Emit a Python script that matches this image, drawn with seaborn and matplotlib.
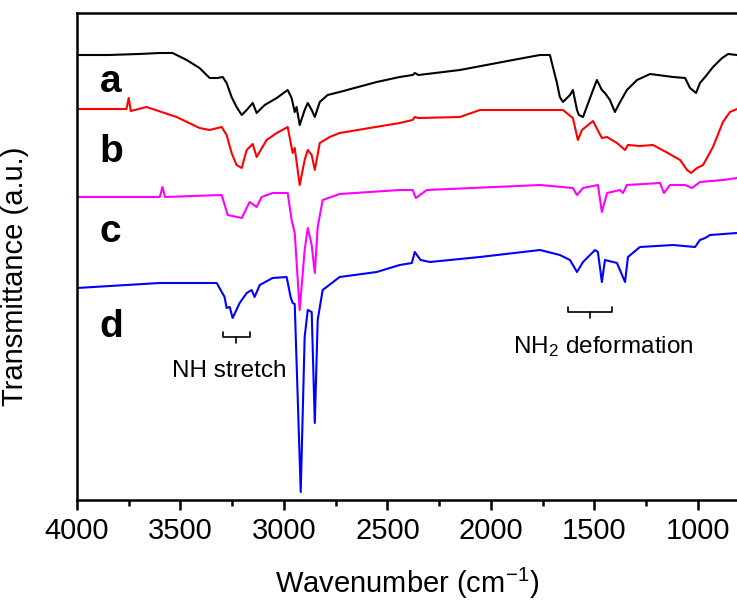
import matplotlib
matplotlib.use("Agg")
import matplotlib.pyplot as plt
from matplotlib.ticker import MultipleLocator
import seaborn as sns
import pandas as pd

# spectra (wavenumber, stacked transmittance a.u.)
wn_a = [4000, 3850, 3700, 3600, 3538, 3470, 3408, 3359, 3321, 3296, 3277, 3253, 3229, 3204, 3180,
        3151, 3132, 3093, 3035, 2982, 2963, 2948, 2939, 2924, 2900, 2885, 2866, 2851, 2827, 2789,
        2731, 2552, 2441, 2378, 2368, 2350, 2150, 1894, 1763, 1715, 1681, 1667, 1652, 1618, 1604,
        1584, 1575, 1555, 1512, 1488, 1464, 1449, 1425, 1401, 1376, 1343, 1294, 1231, 1120, 1062,
        1038, 1009, 990, 965, 927, 883, 854, 811]
t_a = [545, 545, 546, 547, 547, 540, 532, 522, 522, 523, 517, 503, 493, 485, 490,
       497, 487, 495, 502, 510, 502, 488, 493, 475, 490, 497, 490, 483, 498, 505,
       508, 518, 523, 525, 527, 525, 530, 540, 545, 545, 517, 503, 498, 505, 510,
       490, 485, 483, 507, 520, 510, 507, 500, 488, 498, 510, 520, 526, 523, 522,
       512, 507, 517, 523, 533, 542, 546, 545]

wn_b = [4000, 3780, 3761, 3750, 3740, 3664, 3519, 3408, 3359, 3301, 3277, 3253, 3229, 3204, 3180,
        3151, 3132, 3084, 3035, 2982, 2958, 2948, 2924, 2900, 2885, 2866, 2851, 2827, 2779, 2731,
        2441, 2378, 2368, 2350, 2150, 2053, 1763, 1652, 1604, 1580, 1560, 1507, 1464, 1439, 1391,
        1352, 1338, 1280, 1217, 1154, 1086, 1052, 1033, 1004, 975, 927, 879, 845, 811]
t_b = [491, 491, 491, 502, 489, 493, 483, 472, 470, 473, 465, 447, 435, 432, 450,
       456, 443, 460, 467, 473, 447, 452, 415, 440, 450, 445, 430, 457, 463, 467,
       477, 480, 483, 482, 483, 490, 490, 490, 482, 460, 470, 479, 462, 463, 457,
       450, 455, 454, 455, 448, 440, 430, 427, 432, 435, 453, 478, 488, 491]

wn_c = [4000, 3600, 3587, 3575, 3301, 3272, 3204, 3166, 3132, 3108, 3055, 2982, 2963, 2948, 2924,
        2900, 2885, 2866, 2851, 2837, 2813, 2731, 2441, 2378, 2363, 2310, 1763, 1604, 1584, 1555,
        1483, 1464, 1439, 1376, 1362, 1343, 1183, 1164, 1135, 1062, 1028, 990, 879, 811]
t_c = [403, 403, 413, 403, 405, 385, 382, 398, 393, 403, 407, 407, 380, 367, 290,
       350, 372, 355, 327, 373, 400, 406, 410, 410, 402, 410, 415, 412, 405, 412,
       415, 388, 407, 410, 407, 415, 417, 407, 415, 415, 412, 418, 420, 422]

wn_d = [4000, 3761, 3600, 3325, 3287, 3277, 3262, 3248, 3214, 3180, 3156, 3142, 3117, 3055, 2987,
        2968, 2958, 2948, 2919, 2900, 2885, 2866, 2851, 2837, 2813, 2731, 2552, 2441, 2382, 2368,
        2340, 2295, 2053, 1763, 1667, 1618, 1584, 1555, 1497, 1483, 1464, 1449, 1391, 1352, 1338,
        1280, 1120, 1014, 990, 965, 941, 811]
t_d = [312, 315, 317, 317, 303, 292, 293, 282, 297, 307, 310, 303, 315, 322, 323,
       303, 297, 296, 108, 263, 290, 288, 177, 280, 310, 323, 328, 335, 337, 348,
       340, 338, 343, 350, 345, 340, 328, 338, 350, 348, 318, 340, 337, 318, 343,
       353, 355, 353, 360, 362, 365, 367]

samples = ["a", "b", "c", "d"]
colors = ["black", "#FF0000", "#FF00FF", "#0000FF"]
x_ticks = [4000, 3500, 3000, 2500, 2000, 1500, 1000]

# annotation brackets: (start, end, level) and texts
brackets = [(3296, 3166, 263), (1628, 1415, 288)]
notes = [("NH stretch", 3262, 223), (r"NH$_2$ deformation", 1459, 247)]

frames = []
for name, wn, t in zip(samples, [wn_a, wn_b, wn_c, wn_d], [t_a, t_b, t_c, t_d]):
    frames.append(pd.DataFrame({"wavenumber": wn, "T": t, "sample": name}))
df = pd.concat(frames, ignore_index=True)

sns.set_style("ticks")
plt.rcParams["font.family"] = ["Liberation Sans", "DejaVu Sans"]
plt.rcParams["mathtext.fontset"] = "custom"
plt.rcParams["mathtext.rm"] = "Liberation Sans"
plt.rcParams["mathtext.it"] = "Liberation Sans:italic"
for key in ["text.color", "axes.labelcolor", "xtick.color", "ytick.color", "axes.edgecolor"]:
    plt.rcParams[key] = "black"

fig = plt.figure(figsize=(7.37, 6.01), dpi=100)
ax = fig.add_axes([77 / 737, 101 / 601, 660 / 737, 487 / 601])

sns.lineplot(data=df, x="wavenumber", y="T", hue="sample", palette=dict(zip(samples, colors)),
             estimator=None, sort=False, linewidth=1.5, legend=False, ax=ax)

for lab, yb in zip(samples, [508, 438, 358, 263]):
    ax.text(3890, yb, lab, fontsize=28, fontweight="bold", ha="left", va="baseline")

for x0, x1, lvl in brackets:
    xm = (x0 + x1) / 2
    ax.plot([x0, x0, x1, x1], [lvl + 5, lvl, lvl, lvl + 5], color="black", lw=1.2)
    ax.plot([xm, xm], [lvl, lvl - 6], color="black", lw=1.2)
for txt, x, y in notes:
    ax.text(x, y, txt, fontsize=17.5, ha="center", va="baseline")

ax.set_xlim(4000, 811)
ax.set_ylim(100, 587)
ax.set_xticks(x_ticks)
ax.xaxis.set_minor_locator(MultipleLocator(250))
ax.set_yticks([])
ax.tick_params(axis="x", which="major", direction="out", length=7, width=1.8, labelsize=21, pad=5)
ax.tick_params(axis="x", which="minor", direction="out", length=4, width=1.8)
for side in ["left", "bottom", "top"]:
    ax.spines[side].set_linewidth(1.8)
ax.spines["right"].set_visible(False)

ax.set_xlabel("Wavenumber (cm$^{-1}$)", fontsize=21, labelpad=15)
ax.set_ylabel("Transmittance (a.u.)", fontsize=21)
ax.yaxis.set_label_coords(-0.073, 0.46)

plt.savefig("out.png", dpi=100)
